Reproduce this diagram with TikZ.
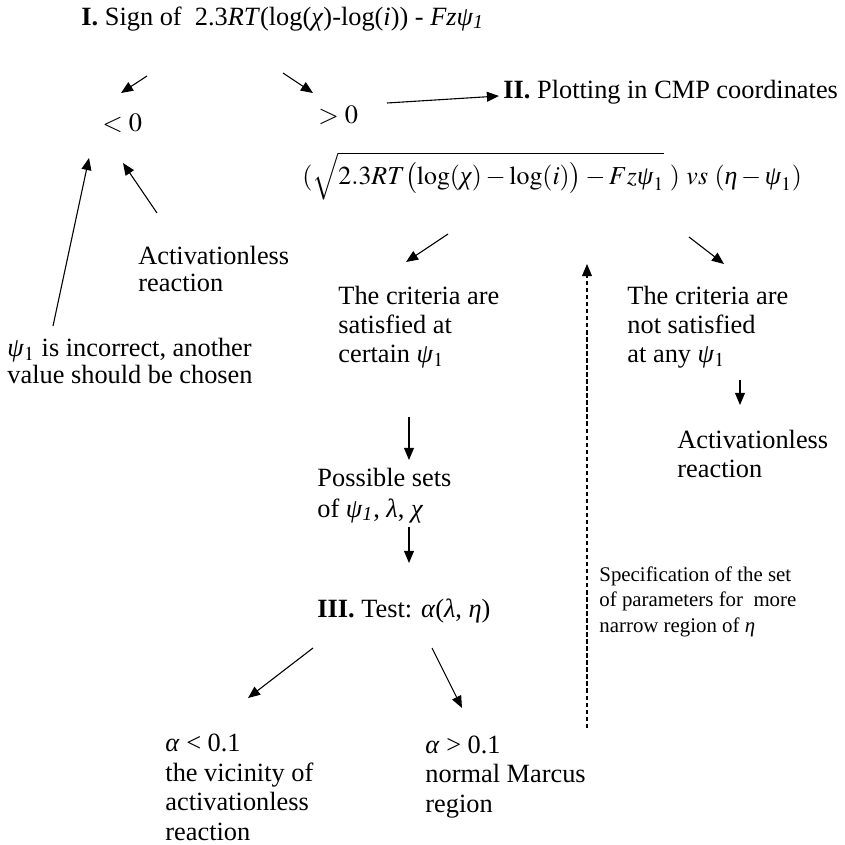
\documentclass[tikz,border=0pt]{standalone}
\usepackage{amsmath}
\usepackage{mathptmx}
\usepackage{fontspec}
\setmainfont{Liberation Serif}
\usepackage{tikz}
\usetikzlibrary{arrows.meta}
\newcommand{\gr}[1]{\text{\textit{#1}}}
\newcommand{\psione}{\textit{ψ}$_1$}

\begin{document}
\begin{tikzpicture}[
    x=0.016cm, y=-0.016cm,
    txt/.style={anchor=base west, inner sep=0pt, align=left, font=\fontsize{12}{13}\selectfont},
    note/.style={txt, font=\fontsize{9.5}{11.4}\selectfont},
    arr/.style={-{Triangle[length=5.5pt,width=4.5pt]}, line width=0.5pt},
    back/.style={arr, dash pattern=on 2pt off 1.2pt}
]
\useasboundingbox (0,0) rectangle (845,845);

% Step I and the sign
\node[txt] (sign) at (81,25) {\textbf{I.} Sign of \ 2.3\textit{RT}(log(\textit{χ})-log(\textit{i})) - \textit{Fzψ\textsubscript{1}}};
\node[txt] (neg) at (102,131) {$<0$};
\node[txt] (pos) at (318,123) {$>0$};
\node[txt, font=\fontsize{12}{12}\selectfont] (lact) at (138,291) {Activationless\\reaction};
\node[txt, font=\fontsize{12}{12}\selectfont] (wrong) at (7,383) {\psione{} is incorrect, another\\value should be chosen};

% Step II
\node[txt] (plot) at (503,98) {\textbf{II.} Plotting in CMP coordinates};
\node[txt, font=\fontsize{11.8}{13}\selectfont] (curve) at (302,184) {$(\sqrt{2.3RT\bigl(\log(\gr{χ})-\log(i)\bigr)-Fz\gr{ψ}_1}\;)\ vs\ (\gr{η}-\gr{ψ}_1)$};
\node[txt] (yes) at (338,362) {The criteria are\\satisfied at\\certain \psione};
\node[txt] (no) at (627,362) {The criteria are\\not satisfied\\at any \psione};
\node[txt, font=\fontsize{12}{13.2}\selectfont] (ract) at (677,477) {Activationless\\reaction};

% Step III
\node[txt, font=\fontsize{12}{14.1}\selectfont] (sets) at (317,517) {Possible sets\\of \textit{ψ\textsubscript{1}}, \textit{λ}, \textit{χ}};
\node[txt] (test) at (317,617) {\textbf{III.} Test: \textit{α}(\textit{λ}, \textit{η})};
\node[txt, font=\fontsize{12}{13.4}\selectfont] (low) at (165,840) {\textit{α} < 0.1\\the vicinity of\\activationless\\reaction};
\node[txt, font=\fontsize{12}{13.4}\selectfont] (high) at (425,812) {\textit{α} > 0.1\\normal Marcus\\region};
\node[note] (spec) at (599,632) {Specification of the set\\of parameters for \ more\\narrow region of \textit{η}};

% Arrows
\draw[arr] ([shift={(66,51)}]sign.base west) -- ([shift={(19,-38)}]neg.base west);
\draw[arr] ([shift={(202,48)}]sign.base west) -- ([shift={(-5,-30)}]pos.base west);
\draw[arr] ([shift={(69,-20)}]pos.base west) -- ([shift={(-4,-2)}]plot.base west);
\draw[arr] ([shift={(19,-78)}]lact.base west) -- ([shift={(21,32)}]neg.base west);
\draw[arr] ([shift={(46,-57)}]wrong.base west) -- ([shift={(-13,27)}]neg.base west);
\draw[arr] ([shift={(146,50)}]curve.base west) -- ([shift={(68,-100)}]yes.base west);
\draw[arr] ([shift={(387,53)}]curve.base west) -- ([shift={(97,-98)}]no.base west);
\draw[arr] ([shift={(113,18)}]no.base west) -- ([shift={(63,-72)}]ract.base west);
\draw[arr] ([shift={(71,55)}]yes.base west) -- ([shift={(92,-57)}]sets.base west);
\draw[arr] ([shift={(92,10)}]sets.base west) -- ([shift={(92,-54)}]test.base west);
\draw[arr] ([shift={(-4,31)}]test.base west) -- ([shift={(83,-142)}]low.base west);
\draw[arr] ([shift={(115,31)}]test.base west) -- ([shift={(37,-104)}]high.base west);
\draw[back] ([shift={(162,-84)}]high.base west) -- ([shift={(285,80)}]curve.base west);
\end{tikzpicture}
\end{document}
